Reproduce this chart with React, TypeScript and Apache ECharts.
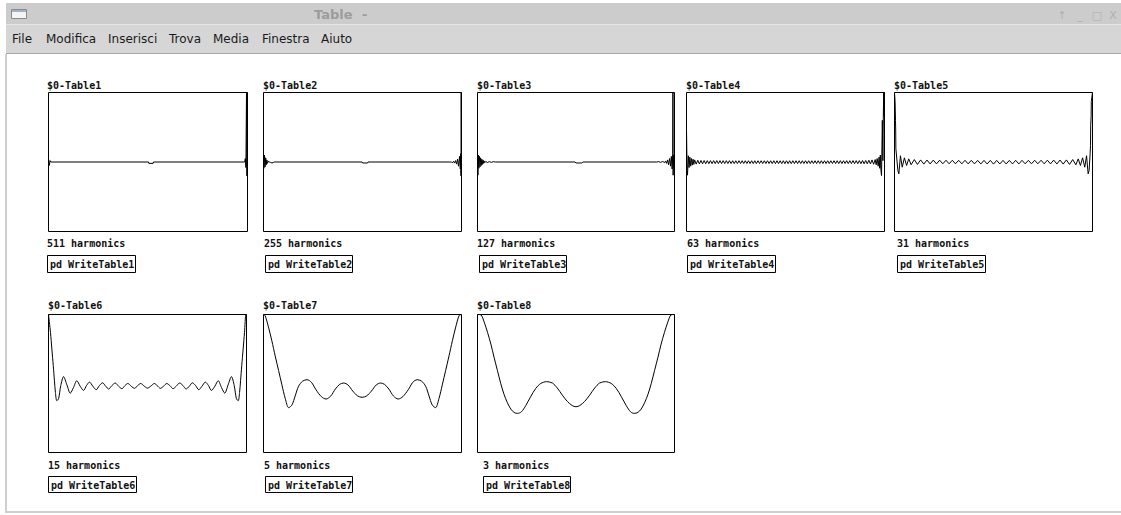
import React, { useEffect, useRef } from "react";
import * as echarts from "echarts";

// ---------- text content ----------
const windowTitle = "Table";
const menuItems = ["File", "Modifica", "Inserisci", "Trova", "Media", "Finestra", "Aiuto"];
const tableNames = ["$0-Table1", "$0-Table2", "$0-Table3", "$0-Table4", "$0-Table5", "$0-Table6", "$0-Table7", "$0-Table8"];
const harmonicLabels = ["511 harmonics", "255 harmonics", "127 harmonics", "63 harmonics", "31 harmonics", "15 harmonics", "5 harmonics", "3 harmonics"];
const subpatchLabels = ["pd WriteTable1", "pd WriteTable2", "pd WriteTable3", "pd WriteTable4", "pd WriteTable5", "pd WriteTable6", "pd WriteTable7", "pd WriteTable8"];

// ---------- table values: [position along table in %, sample value] ----------
const table1 = [
  [0, 0.05], [0.4, -0.05], [0.8, 0.02], [1.2, 0], [50.3, 0], [50.4, -0.02], [52.6, -0.02], [52.7, 0],
  [98.6, 0], [98.9, 0.05], [99.2, -0.08], [99.5, 1], [99.7, -0.2], [100, 1],
];
const table2 = [
  [0, 0.12], [0.2, -0.09], [0.5, 0.1], [0.8, -0.07], [1.1, 0.06], [1.4, -0.04], [1.7, 0.03], [2.0, -0.02],
  [2.4, 0.01], [2.8, 0], [3.4, 0], [3.8, -0.012], [4.8, -0.012], [5.2, 0], [49.8, 0], [50, -0.014],
  [52.6, -0.014], [52.8, 0], [95, 0], [95.4, -0.012], [96, 0.01], [96.5, -0.015], [97, 0.02], [97.5, -0.03],
  [98, 0.04], [98.5, -0.06], [99, 0.08], [99.4, -0.1], [99.6, 0.12], [99.75, -0.2], [99.85, 1], [100, 0],
];
const table3 = [
  [0, 0.12], [0.2, -0.19], [0.4, 0.1], [0.7, -0.09], [1.0, 0.08], [1.3, -0.07], [1.6, 0.06], [1.9, -0.05],
  [2.2, 0.04], [2.5, -0.035], [2.8, 0.03], [3.1, -0.02], [3.4, 0.015], [3.7, -0.01], [4.2, 0.008], [5, -0.008],
  [6, 0.006], [7, -0.006], [8, 0.005], [9, 0], [49.5, 0], [50, -0.014], [53, -0.014], [53.5, 0],
  [91, 0], [92, 0.005], [93, -0.006], [94, 0.008], [95, -0.01], [95.5, 0.015], [96, -0.02], [96.5, 0.03],
  [97, -0.04], [97.5, 0.05], [98, -0.06], [98.4, 0.08], [98.8, -0.1], [99.1, 0.12], [99.2, 1], [99.3, -0.19],
  [99.6, 0.1], [100, 0],
];
const table4 = [
  [0, 0.46], [0.3, -0.12], [0.5, -0.19], [0.9, 0.09], [1.3, -0.08], [1.7, 0.07], [2.1, -0.06], [2.5, 0.05],
  [2.9, -0.045], [3.3, 0.04], [3.7, -0.035], [4.1, 0.03], [4.9, -0.03], [5.7, 0.025], [6.5, -0.028], [7.3, 0.022],
  [8.1, -0.026], [8.9, 0.021], [9.7, -0.025], [10.5, 0.02], [11.3, -0.024], [12.1, 0.02], [12.9, -0.024], [13.7, 0.02],
  [14.5, -0.023], [15.3, 0.02], [16.1, -0.023], [16.9, 0.019], [17.7, -0.023], [18.5, 0.019], [19.3, -0.022], [20.1, 0.019],
  [20.9, -0.022], [21.7, 0.019], [22.5, -0.022], [23.3, 0.018], [24.1, -0.022], [24.9, 0.018], [25.7, -0.022], [26.5, 0.018],
  [27.3, -0.022], [28.1, 0.018], [28.9, -0.022], [29.7, 0.018], [30.5, -0.022], [31.3, 0.018], [32.1, -0.022], [32.9, 0.018],
  [33.7, -0.022], [34.5, 0.018], [35.3, -0.022], [36.1, 0.018], [36.9, -0.022], [37.7, 0.018], [38.5, -0.022], [39.3, 0.018],
  [40.1, -0.022], [40.9, 0.018], [41.7, -0.022], [42.5, 0.018], [43.3, -0.023], [44.1, 0.018], [44.9, -0.023], [45.7, 0.018],
  [46.5, -0.023], [47.3, 0.018], [48.1, -0.023], [48.9, 0.018], [49.7, -0.024], [50.5, 0.018], [51.3, -0.023], [52.1, 0.018],
  [52.9, -0.023], [53.7, 0.018], [54.5, -0.023], [55.3, 0.018], [56.1, -0.023], [56.9, 0.018], [57.7, -0.022], [58.5, 0.018],
  [59.3, -0.022], [60.1, 0.018], [60.9, -0.022], [61.7, 0.018], [62.5, -0.022], [63.3, 0.018], [64.1, -0.022], [64.9, 0.018],
  [65.7, -0.022], [66.5, 0.018], [67.3, -0.022], [68.1, 0.018], [68.9, -0.022], [69.7, 0.018], [70.5, -0.022], [71.3, 0.018],
  [72.1, -0.022], [72.9, 0.018], [73.7, -0.022], [74.5, 0.018], [75.3, -0.022], [76.1, 0.018], [76.9, -0.022], [77.7, 0.019],
  [78.5, -0.022], [79.3, 0.019], [80.1, -0.022], [80.9, 0.019], [81.7, -0.023], [82.5, 0.019], [83.3, -0.023], [84.1, 0.02],
  [84.9, -0.023], [85.7, 0.02], [86.5, -0.024], [87.3, 0.02], [88.1, -0.024], [88.9, 0.021], [89.7, -0.025], [90.5, 0.022],
  [91.3, -0.026], [92.1, 0.025], [92.9, -0.028], [93.7, 0.03], [94.5, -0.032], [95.3, 0.035], [95.8, -0.04], [96.3, 0.05],
  [96.8, -0.06], [97.3, 0.07], [97.6, -0.09], [97.9, 0.1], [98.2, -0.12], [98.5, -0.195], [98.9, 0.6], [99.2, 0.02],
  [99.4, 0.65], [99.6, 1], [99.8, 0.65], [100, 1],
];
const table5 = [
  [0, 1], [0.3, 0.87], [0.5, 0.6], [0.6, 0.46], [0.7, 0.19], [1.7, -0.12], [2.2, -0.17], [3.0, 0.09],
  [3.9, -0.075], [5.0, 0.06], [6.1, -0.05], [7.2, 0.045], [8.4, -0.04], [10.0, 0.035], [11.6, -0.035], [13.2, 0.03],
  [14.8, -0.03], [16.4, 0.028], [18.0, -0.028], [19.6, 0.027], [21.2, -0.027], [22.8, 0.026], [24.4, -0.026], [26.0, 0.025],
  [27.6, -0.026], [29.2, 0.025], [30.8, -0.026], [32.4, 0.024], [34.0, -0.026], [35.6, 0.024], [37.2, -0.027], [38.8, 0.024],
  [40.4, -0.027], [42.0, 0.023], [43.6, -0.028], [45.2, 0.023], [46.8, -0.028], [48.4, 0.023], [50.0, -0.03], [51.6, 0.023],
  [53.2, -0.028], [54.8, 0.023], [56.4, -0.028], [58.0, 0.023], [59.6, -0.027], [61.2, 0.024], [62.8, -0.027], [64.4, 0.024],
  [66.0, -0.026], [67.6, 0.024], [69.2, -0.026], [70.8, 0.025], [72.4, -0.026], [74.0, 0.025], [75.6, -0.026], [77.2, 0.026],
  [78.8, -0.027], [80.4, 0.027], [82.0, -0.028], [83.6, 0.028], [85.2, -0.03], [86.8, 0.03], [88.4, -0.035], [90.0, 0.035],
  [91.6, -0.04], [92.8, 0.045], [93.9, -0.05], [95.0, 0.06], [96.1, -0.075], [97.0, 0.09], [97.8, -0.17], [98.3, -0.12],
  [98.8, 0.12], [99.0, 0.24], [99.1, 0.53], [99.3, 0.65], [99.4, 0.87], [100, 1],
];
const table6 = [
  [0, 1], [0.3, 1], [1.0, 0.74], [1.7, 0.5], [2.4, 0.26], [3.0, 0.04], [3.5, -0.13], [4.2, -0.25],
  [5.1, -0.22], [6.2, -0.03], [7.6, 0.1], [9.3, -0.02], [11.0, -0.14], [12.6, -0.06], [14.3, 0.04], [16.0, -0.04],
  [17.7, -0.1], [19.2, -0.03], [20.7, 0.02], [22.4, -0.04], [24.1, -0.09], [25.7, -0.03], [27.3, 0.01], [28.9, -0.04],
  [30.4, -0.08], [32.0, -0.03], [33.7, 0.007], [35.4, -0.04], [37.1, -0.075], [38.6, -0.03], [40.1, 0.0], [41.8, -0.04],
  [43.5, -0.07], [45.0, -0.03], [46.6, 0.0], [48.2, -0.035], [50.0, -0.067], [51.8, -0.035], [53.4, 0.0], [54.9, -0.03],
  [56.5, -0.07], [58.1, -0.04], [59.7, 0.0], [61.3, -0.03], [62.9, -0.075], [64.5, -0.04], [66.2, 0.007], [67.9, -0.03],
  [69.5, -0.08], [71.1, -0.04], [72.7, 0.01], [74.3, -0.03], [75.9, -0.09], [77.5, -0.04], [79.2, 0.02], [80.8, -0.03],
  [82.3, -0.1], [84.0, -0.04], [85.7, 0.04], [87.4, -0.06], [89.0, -0.14], [90.7, -0.02], [92.4, 0.1], [93.8, -0.03],
  [94.9, -0.22], [95.8, -0.25], [96.5, -0.13], [97.0, 0.04], [97.6, 0.26], [98.3, 0.5], [99.0, 0.74], [99.7, 1],
  [100, 1],
];
const table7 = [
  [0, 1], [0.8, 0.985], [2.5, 0.82], [4.2, 0.62], [5.9, 0.4], [7.6, 0.19], [9.3, -0.02], [11.0, -0.22],
  [12.7, -0.35], [14.4, -0.31], [16.0, -0.18], [17.7, -0.04], [19.8, 0.035], [22.0, 0.055], [24.2, 0.017], [26.5, -0.09],
  [29.2, -0.19], [31.6, -0.225], [34.0, -0.18], [36.3, -0.08], [38.5, -0.012], [40.5, 0.007], [42.7, -0.022], [45.1, -0.11],
  [47.5, -0.18], [49.8, -0.2], [52.1, -0.18], [54.5, -0.11], [56.9, -0.022], [59.1, 0.007], [61.1, -0.012], [63.3, -0.08],
  [65.6, -0.18], [68.0, -0.225], [70.4, -0.19], [73.1, -0.09], [75.4, 0.017], [77.6, 0.055], [79.8, 0.035], [81.9, -0.04],
  [83.6, -0.18], [85.2, -0.31], [86.9, -0.35], [88.6, -0.22], [90.3, -0.02], [92.0, 0.19], [93.7, 0.4], [95.4, 0.62],
  [97.1, 0.82], [98.8, 0.985], [100, 1],
];
const table8 = [
  [0, 1], [1.7, 0.995], [3.4, 0.89], [5.1, 0.74], [6.8, 0.57], [8.4, 0.38], [10.1, 0.19], [11.8, 0.0],
  [13.5, -0.16], [15.2, -0.28], [16.9, -0.37], [18.6, -0.42], [20.3, -0.433], [22.3, -0.41], [24.5, -0.32], [27.0, -0.19],
  [29.6, -0.07], [32.1, 0.0], [35.1, 0.027], [38.0, 0.007], [40.5, -0.065], [43.1, -0.17], [45.6, -0.26], [48.1, -0.32],
  [50.0, -0.337], [51.9, -0.32], [54.4, -0.26], [56.9, -0.17], [59.5, -0.065], [62.0, 0.007], [64.9, 0.027], [67.9, 0.0],
  [70.4, -0.07], [73.0, -0.19], [75.5, -0.32], [77.7, -0.41], [79.5, -0.433], [81.4, -0.42], [83.1, -0.37], [84.8, -0.28],
  [86.5, -0.16], [88.2, 0.0], [89.9, 0.19], [91.6, 0.38], [93.2, 0.57], [94.9, 0.74], [96.6, 0.89], [98.3, 0.995],
  [100, 1],
];
const tableData = [table1, table2, table3, table4, table5, table6, table7, table8];

// ---------- layout (pixels) ----------
const boxes = [
  { x: 48, y: 92, w: 199, h: 139 },
  { x: 263, y: 92, w: 198, h: 139 },
  { x: 477, y: 92, w: 197, h: 139 },
  { x: 686, y: 92, w: 198, h: 139 },
  { x: 894, y: 92, w: 198, h: 139 },
  { x: 48, y: 314, w: 198, h: 138 },
  { x: 263, y: 314, w: 198, h: 138 },
  { x: 477, y: 314, w: 197, h: 138 },
];
const labelPos = [
  { nx: 47, ny: 85, hx: 47, hy: 243.5, bx: 47, by: 255, bw: 88, bh: 17 },
  { nx: 263, ny: 85, hx: 264, hy: 243.5, bx: 265, by: 255, bw: 87, bh: 17 },
  { nx: 477, ny: 85, hx: 477, hy: 243.5, bx: 479, by: 255, bw: 87, bh: 17 },
  { nx: 686, ny: 85, hx: 687, hy: 243.5, bx: 687, by: 255, bw: 88, bh: 17 },
  { nx: 894, ny: 85, hx: 897, hy: 243.5, bx: 897, by: 255, bw: 88, bh: 17 },
  { nx: 48, ny: 305, hx: 48, hy: 465, bx: 48, by: 476, bw: 88, bh: 16 },
  { nx: 263, ny: 305, hx: 264, hy: 465, bx: 265, by: 476, bw: 87, bh: 16 },
  { nx: 477, ny: 305, hx: 483, hy: 465, bx: 483, by: 476, bw: 87, bh: 16 },
];
const menuX = [12, 46, 108, 169, 213, 262, 321];

const MONO = 'bold 10px "DejaVu Sans Mono", monospace';

export default function App() {
  const ref = useRef<HTMLDivElement>(null);

  useEffect(() => {
    if (!ref.current) return;
    const chart = echarts.init(ref.current, undefined, { renderer: "svg" });

    const grids = boxes.map((b) => ({
      left: b.x + 0.5,
      top: b.y + 0.5,
      width: b.w,
      height: b.h,
      show: true,
      borderColor: "#000",
      borderWidth: 1,
      backgroundColor: "#fff",
      containLabel: false,
    }));
    const xAxes = boxes.map((_, i) => ({ type: "value", gridIndex: i, min: 0, max: 100, show: false }));
    const yAxes = boxes.map((_, i) => ({ type: "value", gridIndex: i, min: -1, max: 1, show: false }));
    const series = tableData.map((d, i) => ({
      type: "line",
      xAxisIndex: i,
      yAxisIndex: i,
      data: d,
      showSymbol: false,
      symbol: "none",
      clip: false,
      silent: true,
      smooth: i >= 5 ? 0.3 : false,
      lineStyle: { color: "#000", width: 1 },
      z: 5,
    }));

    const graphic: any[] = [];
    // window frame
    graphic.push({ type: "rect", shape: { x: 0, y: 0, width: 1121, height: 515 }, style: { fill: "#ffffff" }, z: -10, silent: true });
    graphic.push({ type: "rect", shape: { x: 6, y: 3, width: 1115, height: 21 }, style: { fill: "#cccccc" }, z: -9, silent: true });
    graphic.push({ type: "rect", shape: { x: 6, y: 24, width: 1115, height: 1 }, style: { fill: "#e6e6e6" }, z: -9, silent: true });
    graphic.push({ type: "rect", shape: { x: 6, y: 25, width: 1115, height: 28 }, style: { fill: "#d6d6d6" }, z: -9, silent: true });
    graphic.push({ type: "rect", shape: { x: 6, y: 53, width: 1115, height: 1 }, style: { fill: "#a9a9a9" }, z: -9, silent: true });
    graphic.push({ type: "rect", shape: { x: 5, y: 54, width: 2, height: 459 }, style: { fill: "#cfcfcf" }, z: -9, silent: true });
    graphic.push({ type: "rect", shape: { x: 5, y: 511, width: 1116, height: 2 }, style: { fill: "#cfcfcf" }, z: -9, silent: true });
    // title bar icon
    graphic.push({ type: "rect", shape: { x: 11.5, y: 9.5, width: 15, height: 9 }, style: { fill: "#f4f4f4", stroke: "#8a8a8a", lineWidth: 1 }, z: -8, silent: true });
    graphic.push({ type: "rect", shape: { x: 12, y: 10, width: 14, height: 2 }, style: { fill: "#9fb2c8" }, z: -7, silent: true });
    graphic.push({ type: "text", style: { text: windowTitle, x: 314, y: 14, font: 'bold 13px "DejaVu Sans", sans-serif', fill: "#9c9c9c", verticalAlign: "middle", textVerticalAlign: "middle" }, z: -7, silent: true });
    graphic.push({ type: "text", style: { text: "-", x: 362, y: 14, font: 'bold 13px "DejaVu Sans", sans-serif', fill: "#9c9c9c", verticalAlign: "middle", textVerticalAlign: "middle" }, z: -7, silent: true });
    const ctl = ["↑", "_", "□", "X"];
    const ctlX = [1062, 1080, 1097, 1113];
    ctl.forEach((t, i) =>
      graphic.push({ type: "text", style: { text: t, x: ctlX[i], y: 15, font: '11px "DejaVu Sans", sans-serif', fill: "#b0b0b0", align: "center", textAlign: "center", verticalAlign: "middle", textVerticalAlign: "middle" }, z: -7, silent: true })
    );
    menuItems.forEach((m, i) =>
      graphic.push({ type: "text", style: { text: m, x: menuX[i], y: 39, font: '12px "DejaVu Sans", sans-serif', fill: "#1a1a1a", verticalAlign: "middle", textVerticalAlign: "middle" }, z: -7, silent: true })
    );
    // table labels
    labelPos.forEach((p, i) => {
      graphic.push({ type: "text", style: { text: tableNames[i], x: p.nx, y: p.ny, font: MONO, fill: "#111", verticalAlign: "middle", textVerticalAlign: "middle" }, z: 10, silent: true });
      graphic.push({ type: "text", style: { text: harmonicLabels[i], x: p.hx, y: p.hy, font: MONO, fill: "#111", verticalAlign: "middle", textVerticalAlign: "middle" }, z: 10, silent: true });
      graphic.push({ type: "rect", shape: { x: p.bx + 0.5, y: p.by + 0.5, width: p.bw, height: p.bh }, style: { fill: "#fff", stroke: "#000", lineWidth: 1 }, z: 10, silent: true });
      graphic.push({ type: "text", style: { text: subpatchLabels[i], x: p.bx + 3, y: p.by + p.bh / 2 + 1, font: MONO, fill: "#111", verticalAlign: "middle", textVerticalAlign: "middle" }, z: 11, silent: true });
    });

    chart.setOption({
      animation: false,
      backgroundColor: "#ffffff",
      grid: grids,
      xAxis: xAxes,
      yAxis: yAxes,
      series,
      graphic,
    });

    return () => chart.dispose();
  }, []);

  return <div ref={ref} style={{ position: "fixed", left: 0, top: 0, width: 1121, height: 515 }} />;
}
